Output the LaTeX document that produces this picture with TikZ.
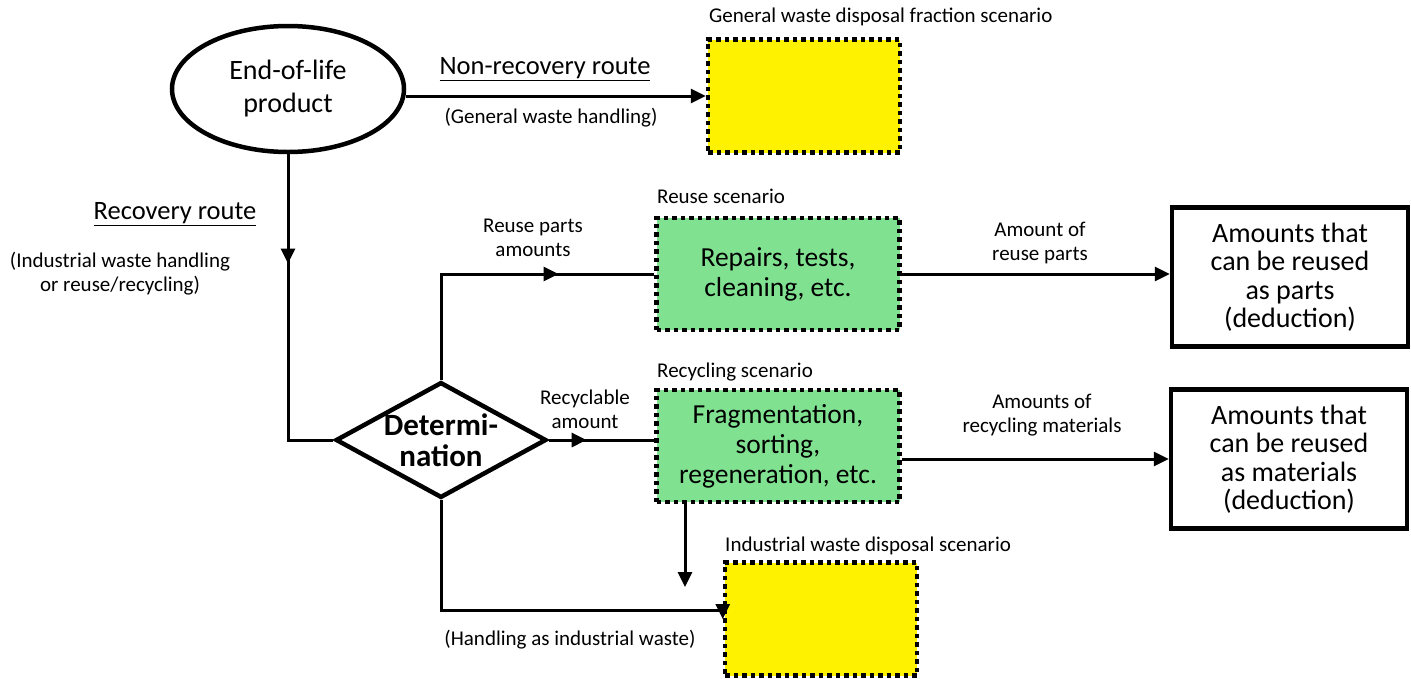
\documentclass[tikz,border=0pt]{standalone}
\usepackage{fontspec}
\setmainfont{Carlito}
\usetikzlibrary{shapes.geometric,arrows.meta,decorations.markings}
\begin{document}
\begin{tikzpicture}[x=1pt,y=-1pt,
  conn/.style={line width=3pt},
  tip/.style={-{Triangle[length=15pt,width=14pt]}},
  midtip/.style={postaction={decorate},decoration={markings,mark=at position #1 with {\arrow{Triangle[length=15pt,width=14pt]}}}},
  dotbox/.style={draw=black,line width=4.5pt,dash pattern=on 4.5pt off 4pt,minimum width=#1,inner sep=0pt},
  yelbox/.style={dotbox=192pt,fill=yellow,minimum height=113pt},
  grnbox/.style={dotbox=243pt,fill=grn,minimum height=112pt,align=center,font=\fontsize{27.5}{30}\selectfont},
  outbox/.style={draw=black,line width=4.5pt,minimum width=236pt,minimum height=139pt,align=center,inner sep=0pt,font=\fontsize{28}{28.5}\selectfont},
  small/.style={font=\fontsize{21}{24}\selectfont,align=center,inner sep=0pt},
  mid/.style={font=\fontsize{26.5}{30}\selectfont,inner sep=0pt},
]
\definecolor{grn}{RGB}{128,226,145}
\useasboundingbox (0,0) rectangle (1411,678);

% nodes
\node[ellipse,draw,line width=4.5pt,minimum width=232pt,minimum height=126pt,inner sep=0pt,align=center,font=\fontsize{28}{33}\selectfont] (eol) at (288,89) {End-of-life\\product};
\node[yelbox] (gw) at (804,96) {};
\node[diamond,draw,line width=4.5pt,aspect=1.82,minimum width=206pt,minimum height=113pt,inner sep=0pt,align=center,font=\bfseries\fontsize{31}{31}\selectfont] (det) at (441,440) {Determi-\\nation};
\node[grnbox] (rep) at (778,274) {Repairs, tests,\\cleaning, etc.};
\node[grnbox] (frag) at (778,446) {Fragmentation,\\sorting,\\regeneration, etc.};
\node[yelbox] (iw) at (821,619) {};
\node[outbox] (parts) at (1290,277) {Amounts that\\can be reused\\as parts\\(deduction)};
\node[outbox] (mats) at (1289,459) {Amounts that\\can be reused\\as materials\\(deduction)};

% labels
\node[small,anchor=west] (l1) at (709,17) {General waste disposal fraction scenario};
\node[mid] (l2) at (545,69) {\underline{Non-recovery route}};
\node[small] (l3) at (551,118) {(General waste handling)};
\node[mid] (l4) at (175,214) {\underline{Recovery route}};
\node[small] (l5) at (120,274) {(Industrial waste handling\\or reuse/recycling)};
\node[small,anchor=west] (l6) at (657,196) {Reuse scenario};
\node[small] (l7) at (533,238) {Reuse parts\\amounts};
\node[small] (l8) at (1040,243) {Amount of\\reuse parts};
\node[small] (l9) at (657,372) [anchor=west] {Recycling scenario};
\node[small] (l10) at (585,409) {Recyclable\\amount};
\node[small] (l11) at (1042,415) {Amounts of\\recycling materials};
\node[small,anchor=west] (l12) at (725,546) {Industrial waste disposal scenario};
\node[small] (l13) at (570,640) {(Handling as industrial waste)};

% connectors
\coordinate (fragdown) at (685,587);
\draw[conn,tip] (eol.east |- gw.west) -- (gw.west);
\draw[conn,midtip=0.33] (eol.south) -- (eol.south |- det.west) -- (det.west);
\draw[conn,midtip=0.70] (det.north) -- (det.north |- rep.west) -- (rep.west);
\draw[conn,midtip=0.36] (det.east) -- (frag.west |- det.east);
\draw[conn,tip] (det.south) -- ++(0,110) -| (iw.west);
\draw[conn,tip] (frag.south -| fragdown) -- (fragdown);
\draw[conn,tip] (rep.east) -- (rep.east -| parts.west);
\draw[conn,tip] (frag.east |- mats.west) -- (mats.west);
\end{tikzpicture}
\end{document}
